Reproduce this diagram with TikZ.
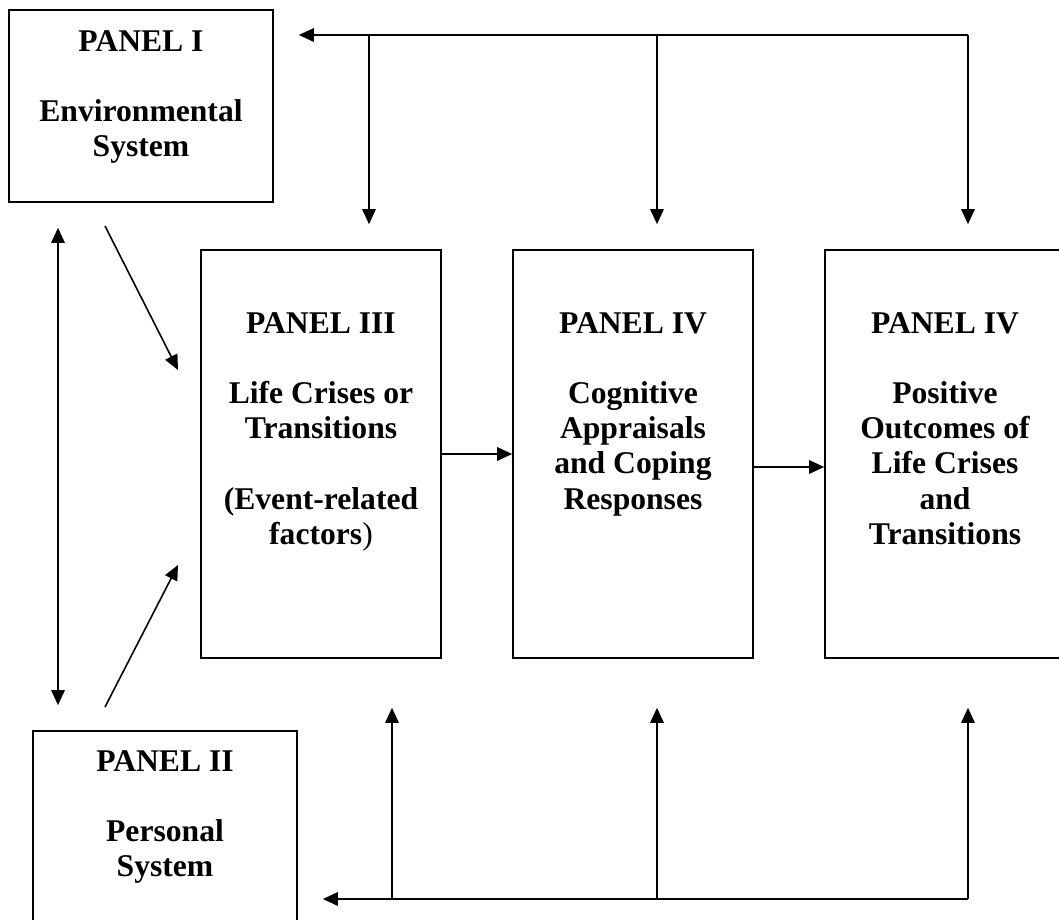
\documentclass[tikz,border=0pt]{standalone}
\usepackage{fontspec}
\setmainfont{Liberation Serif}
\usetikzlibrary{arrows.meta, positioning, calc}

\tikzset{
  panel/.style={draw, line width=1pt, inner sep=0pt},
  tallpanel/.style={panel, minimum width=4.8cm, minimum height=8.16cm},
  sidepanel/.style={panel, minimum width=5.28cm, minimum height=3.84cm},
  paneltext/.style={font=\fontsize{18}{20}\selectfont\bfseries, align=center, inner sep=0pt, anchor=north},
  link/.style={line width=0.9pt, -{Triangle[length=0.3cm, width=0.27cm]}},
  biglink/.style={line width=0.9pt, {Triangle[length=0.3cm, width=0.27cm]}-{Triangle[length=0.3cm, width=0.27cm]}},
}

\begin{document}
\begin{tikzpicture}[x=0.02cm, y=-0.02cm]
    \useasboundingbox (0,0) rectangle (1059,920);

    % panels
    \node[sidepanel] (envbox)  at (141,106) {};
    \node[sidepanel] (persbox) at (165,827) {};
    \node[tallpanel] (lifebox) at (321,454) {};
    \node[tallpanel] (copebox) at (633,454) {};
    \node[tallpanel] (outbox)  at (945,454) {};

    \node[paneltext] (envtxt)  at ($(envbox.north)+(0,21)$)  {PANEL I\\[20pt]Environmental\\System};
    \node[paneltext] (perstxt) at ($(persbox.north)+(0,20)$) {PANEL II\\[20pt]Personal\\System};
    \node[paneltext] (lifetxt) at ($(lifebox.north)+(0,63)$) {PANEL III\\[20pt]Life Crises or\\Transitions\\[20pt](Event-related\\factors{\mdseries)}};
    \node[paneltext] (copetxt) at ($(copebox.north)+(0,63)$) {PANEL IV\\[20pt]Cognitive\\Appraisals\\and Coping\\Responses};
    \node[paneltext] (outtxt)  at ($(outbox.north)+(0,63)$)  {PANEL IV\\[20pt]Positive\\Outcomes of\\Life Crises\\and\\Transitions};

    % feedback along the top
    \coordinate (topA) at (369,35);
    \coordinate (topB) at (657,35);
    \coordinate (topC) at (968,35);
    \draw[link, shorten >=0.5cm] (topC) -- (topC -| envbox.east);
    \foreach \c in {topA, topB, topC}
        \draw[link, shorten >=0.5cm] (\c) -- (\c |- lifebox.north);

    % feedback along the bottom
    \coordinate (botA) at (392,899);
    \coordinate (botB) at (657,899);
    \coordinate (botC) at (968,899);
    \draw[link, shorten >=0.5cm] (botC) -- (botC -| persbox.east);
    \foreach \c in {botA, botB, botC}
        \draw[link, shorten >=0.98cm] (\c) -- (\c |- lifebox.south);

    % panel I <-> panel II
    \coordinate (leftx) at (58,0);
    \draw[biglink, shorten <=0.5cm, shorten >=0.5cm] (envbox.south -| leftx) -- (persbox.north -| leftx);

    % systems into panel III
    \coordinate (envfoot)  at (105,226);
    \coordinate (envtip)   at (178,370);
    \coordinate (persfoot) at (105,707);
    \coordinate (perstip)  at (178,565);
    \draw[link] (envfoot) -- (envtip);
    \draw[link] (persfoot) -- (perstip);

    % main flow
    \draw[link] (lifebox.east) -- (copebox.west);
    \draw[link] ($(copebox.east)+(0,13)$) -- ($(outbox.west)+(0,13)$);
\end{tikzpicture}
\end{document}
